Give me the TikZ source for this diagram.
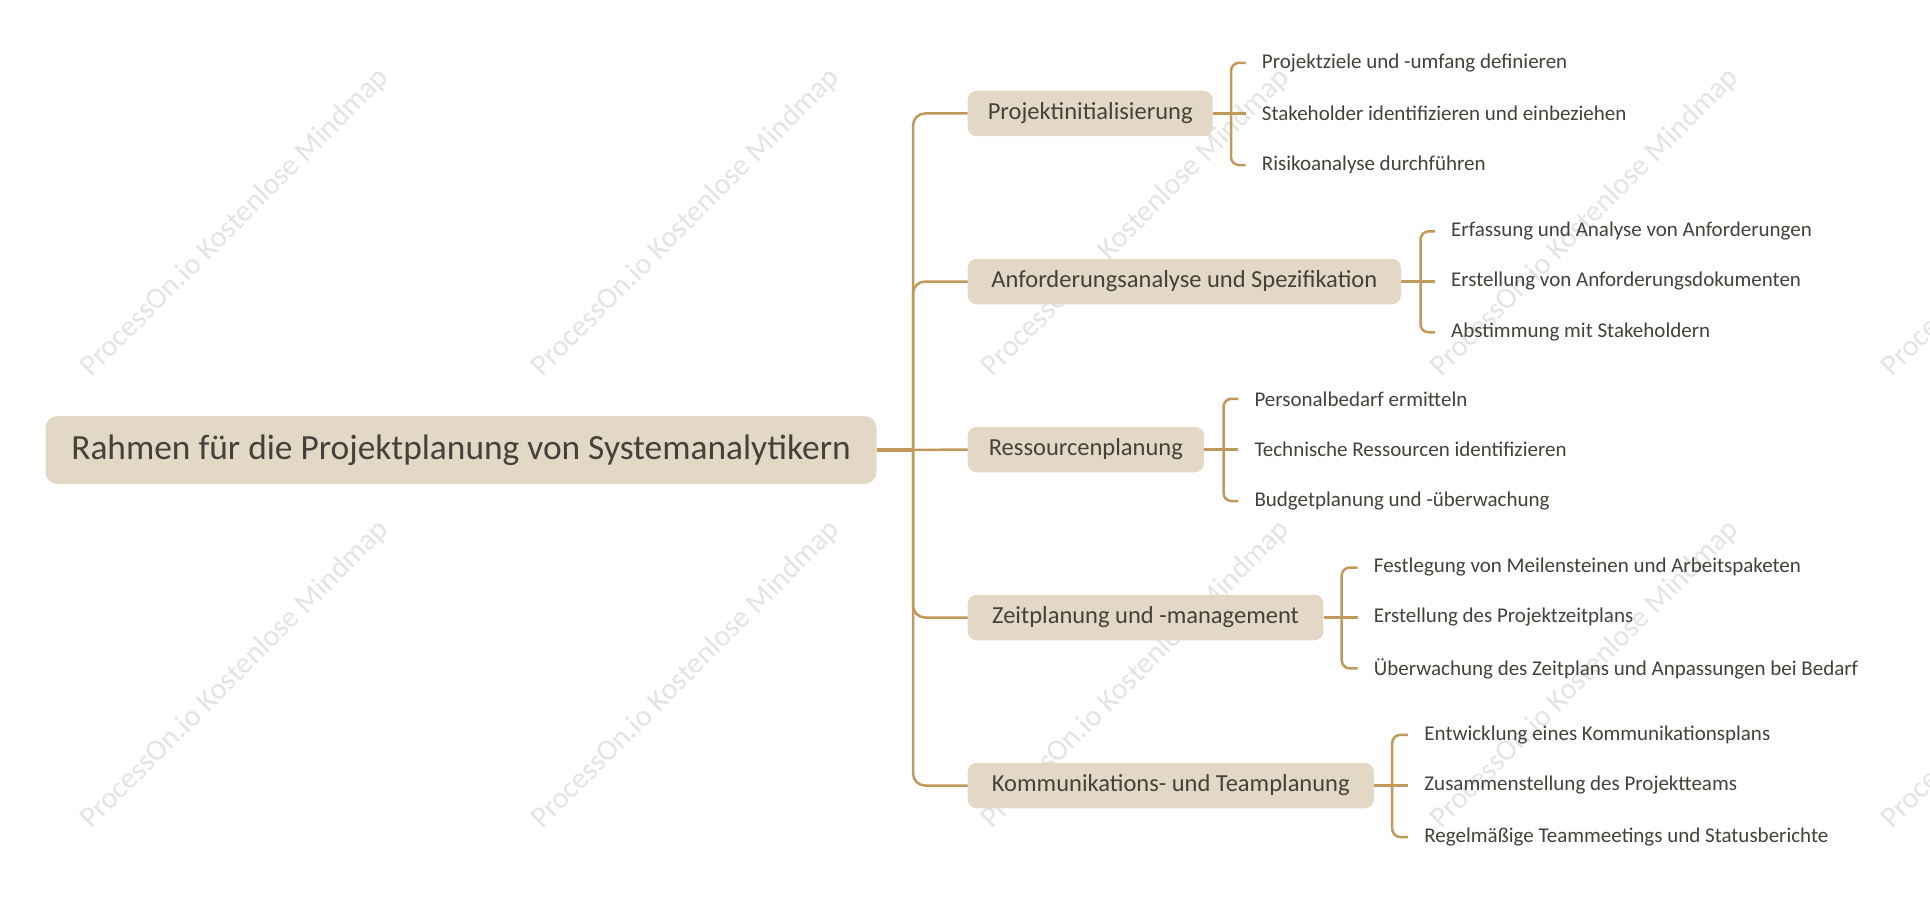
\documentclass[tikz,border=0pt]{standalone}
\usepackage{fontspec}
\setmainfont{Carlito}
\begin{document}
\begin{tikzpicture}[x=1pt,y=-1pt,
  rootbox/.style={fill=boxfill, rounded corners=12pt, minimum width=831pt, minimum height=68pt, inner sep=0pt, text=txt, font=\fontsize{35.4}{40}\selectfont},
  branchbox/.style={fill=boxfill, rounded corners=9pt, minimum height=45.5pt, inner sep=0pt, anchor=west, text=txt, font=\fontsize{24.5}{28}\selectfont},
  leaf/.style={anchor=west, inner sep=0pt, text=txt, font=\fontsize{21}{25}\selectfont},
  link/.style={draw=ln, line width=2.5pt},
  rootlink/.style={draw=ln, line width=3.5pt},
  wm/.style={text=wmc, rotate=45, font=\fontsize{30}{34}\selectfont, inner sep=0pt}
]
\definecolor{boxfill}{HTML}{E3D8C6}
\definecolor{ln}{HTML}{C19A5B}
\definecolor{txt}{HTML}{45413A}
\definecolor{wmc}{HTML}{E4E4E4}
\useasboundingbox (0,0) rectangle (1930,915);
\fill[white] (0,0) rectangle (1930,915);

% watermarks
\foreach \wx/\wy [count=\i] in {235/223, 686/223, 1136/223, 1585/223, 2036/223, 235/675, 686/675, 1136/675, 1585/675, 2036/675}{
  \node[wm] (wm\i) at (\wx,\wy) {ProcessOn.io Kostenlose Mindmap};
}

% root
\node[rootbox] (root) at (461,450) {\raisebox{-2pt}{Rahmen für die Projektplanung von Systemanalytikern}};
\coordinate (trunk) at (913,450);

% branches
\node[branchbox, minimum width=245pt] (b1) at (967.5,113.5) {\raisebox{-1.5pt}{Projektinitialisierung}};
\node[branchbox, minimum width=433.3pt] (b2) at (967.5,281.5) {\raisebox{-1.5pt}{Anforderungsanalyse und Spezifikation}};
\node[branchbox, minimum width=236.3pt] (b3) at (967.5,449.5) {\raisebox{-1.5pt}{Ressourcenplanung}};
\node[branchbox, minimum width=355.7pt] (b4) at (967.5,617.5) {\raisebox{-1.5pt}{Zeitplanung und -management}};
\node[branchbox, minimum width=406.2pt] (b5) at (967.5,785.5) {\raisebox{-1.5pt}{Kommunikations- und Teamplanung}};

% root connectors
\draw[rootlink] (root.east) -- (trunk);
\draw[link, rounded corners=12pt] (b1.west) -| (trunk);
\draw[link, rounded corners=12pt] (b2.west) -| (trunk);
\draw[link] (trunk) -- (b3.west);
\draw[link, rounded corners=12pt] (b4.west) -| (trunk);
\draw[link, rounded corners=12pt] (b5.west) -| (trunk);

% leaves
\node[leaf] (l11) at (1261.7,62.8) {Projektziele und -umfang definieren};
\node[leaf] (l12) at (1261.7,113.5) {Stakeholder identifizieren und einbeziehen};
\node[leaf] (l13) at (1261.7,165) {Risikoanalyse durchführen};

\node[leaf] (l21) at (1451,231.4) {Erfassung und Analyse von Anforderungen};
\node[leaf] (l22) at (1451,281.5) {Erstellung von Anforderungsdokumenten};
\node[leaf] (l23) at (1451,332.3) {Abstimmung mit Stakeholdern};

\node[leaf] (l31) at (1254.3,398.8) {Personalbedarf ermitteln};
\node[leaf] (l32) at (1254.3,449.5) {Technische Ressourcen identifizieren};
\node[leaf] (l33) at (1254.3,501) {Budgetplanung und -überwachung};

\node[leaf] (l41) at (1373.7,567.5) {Festlegung von Meilensteinen und Arbeitspaketen};
\node[leaf] (l42) at (1373.7,617.5) {Erstellung des Projektzeitplans};
\node[leaf] (l43) at (1373.7,668.4) {Überwachung des Zeitplans und Anpassungen bei Bedarf};

\node[leaf] (l51) at (1424.2,734.9) {Entwicklung eines Kommunikationsplans};
\node[leaf] (l52) at (1424.2,785.5) {Zusammenstellung des Projektteams};
\node[leaf] (l53) at (1424.2,837) {Regelmäßige Teammeetings und Statusberichte};

% bracket coordinates
\coordinate (k1) at (1231,113.5);
\coordinate (k2) at (1420.5,281.5);
\coordinate (k3) at (1223.5,449.5);
\coordinate (k4) at (1341.7,617.5);
\coordinate (k5) at (1392.2,785.5);

\foreach \b in {1,...,5}{
  \draw[link, shorten >=16pt] (b\b.east) -- (l\b2.west);
  \draw[link, rounded corners=8pt, shorten >=16pt] (k\b) |- (l\b1.west);
  \draw[link, rounded corners=8pt, shorten >=16pt] (k\b) |- (l\b3.west);
}
\end{tikzpicture}
\end{document}
